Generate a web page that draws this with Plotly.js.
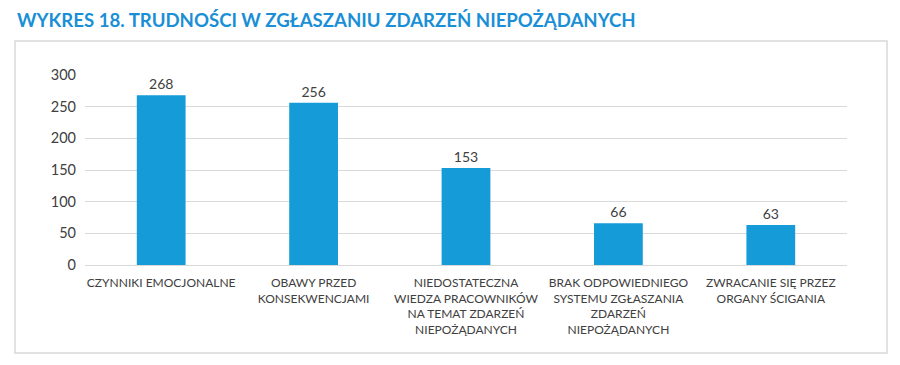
<!DOCTYPE html>
<html>
<head>
<meta charset="utf-8">
<script src="https://cdn.plot.ly/plotly-3.0.1.min.js"></script>
<style>html,body{margin:0;padding:0;background:#fff;}#chart{width:900px;height:365px;}</style>
</head>
<body>
<div id="chart"></div>
<script>
const categories = [
  "CZYNNIKI EMOCJONALNE",
  "OBAWY PRZED<br>KONSEKWENCJAMI",
  "NIEDOSTATECZNA<br>WIEDZA PRACOWNIKÓW<br>NA TEMAT ZDARZEŃ<br>NIEPOŻĄDANYCH",
  "BRAK ODPOWIEDNIEGO<br>SYSTEMU ZGŁASZANIA<br>ZDARZEŃ<br>NIEPOŻĄDANYCH",
  "ZWRACANIE SIĘ PRZEZ<br>ORGANY ŚCIGANIA"
];
const values = [268, 256, 153, 66, 63];
const yTicks = [0, 50, 100, 150, 200, 250, 300];

const trace = {
  type: "bar",
  x: categories,
  y: values,
  text: values.map(String),
  textposition: "outside",
  cliponaxis: false,
  textfont: {family: "Lato, sans-serif", size: 14, color: "#404040"},
  marker: {color: "#159bd7"},
  hoverinfo: "none"
};

const layout = {
  width: 900,
  height: 365,
  margin: {l: 85, r: 53, t: 75, b: 100},
  paper_bgcolor: "#ffffff",
  plot_bgcolor: "#ffffff",
  bargap: 0.68,
  showlegend: false,
  font: {family: "Lato, sans-serif", color: "#404040"},
  title: {
    text: "WYKRES 18. TRUDNOŚCI W ZGŁASZANIU ZDARZEŃ NIEPOŻĄDANYCH",
    x: 17/900, xanchor: "left", xref: "container",
    y: 1 - 20/365, yanchor: "middle", yref: "container",
    font: {family: "Lato, sans-serif", size: 18.6, color: "#1a8fd6", weight: 700}
  },
  xaxis: {
    type: "category",
    tickfont: {family: "Lato, sans-serif", size: 12, color: "#404040"},
    showgrid: false,
    showline: false,
    ticks: "",
    tickangle: 0,
    ticklabelstandoff: 9,
    automargin: false
  },
  yaxis: {
    range: [0, 300],
    tickvals: yTicks,
    ticktext: yTicks.map(String),
    showgrid: true,
    gridcolor: "#d9d9d9",
    gridwidth: 1,
    zeroline: true,
    zerolinecolor: "#d9d9d9",
    zerolinewidth: 1,
    showline: false,
    ticks: "",
    ticklabelstandoff: 8,
    tickfont: {family: "Lato, sans-serif", size: 14.5, color: "#404040"},
    automargin: false
  },
  shapes: [{
    type: "rect", xref: "paper", yref: "paper",
    x0: (15-85)/762, x1: (887-85)/762,
    y0: (265-353)/190, y1: (265-41)/190,
    line: {color: "#d9d9d9", width: 1.5},
    fillcolor: "rgba(0,0,0,0)",
    layer: "below"
  }]
};

Plotly.newPlot("chart", [trace], layout, {displayModeBar: false, staticPlot: true});
</script>
</body>
</html>
